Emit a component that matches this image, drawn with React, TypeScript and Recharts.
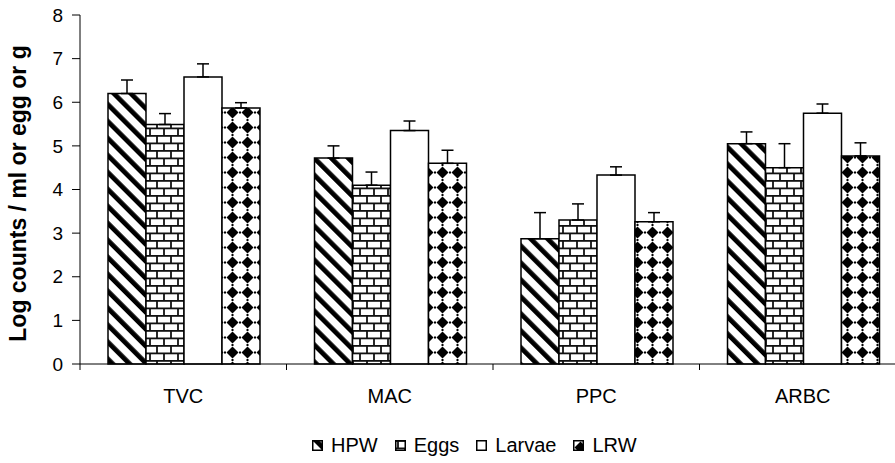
import React from 'react';
import { BarChart, Bar, XAxis, YAxis, ErrorBar, Legend, Label } from 'recharts';

const categories = ['TVC', 'MAC', 'PPC', 'ARBC'];
const seriesNames = ['HPW', 'Eggs', 'Larvae', 'LRW'];

const hpw = [6.2, 4.72, 2.87, 5.05];
const hpwErr = [0.31, 0.28, 0.6, 0.27];
const eggs = [5.49, 4.1, 3.3, 4.5];
const eggsErr = [0.25, 0.3, 0.37, 0.55];
const larvae = [6.58, 5.35, 4.33, 5.75];
const larvaeErr = [0.3, 0.22, 0.19, 0.21];
const lrw = [5.87, 4.6, 3.26, 4.77];
const lrwErr = [0.12, 0.3, 0.21, 0.3];

const yTicks = [0, 1, 2, 3, 4, 5, 6, 7, 8];

const FONT = 'Arial, "Liberation Sans", sans-serif';
const CHART_W = 906;
const CHART_H = 463;
const Y_AXIS_W = 80;

const fills: Record<string, string> = {
    HPW: 'url(#hpwFill)',
    Eggs: 'url(#eggsFill)',
    Larvae: '#ffffff',
    LRW: 'url(#lrwFill)'
};

const values: Record<string, number[]> = { HPW: hpw, Eggs: eggs, Larvae: larvae, LRW: lrw };
const errors: Record<string, number[]> = { HPW: hpwErr, Eggs: eggsErr, Larvae: larvaeErr, LRW: lrwErr };

// one row per category, errors only go upward so the low side is 0
const data = categories.map((name, i) => {
    const row: any = { name };
    seriesNames.forEach(s => {
        row[s] = values[s][i];
        row[s + '_err'] = [0, errors[s][i]];
    });
    return row;
});

const halfBand = (CHART_W - Y_AXIS_W) / categories.length / 2;

function CategoryTick(props: any) {
    const { x, y, payload, index } = props;
    return (
        <g>
            <line x1={x - halfBand} y1={y} x2={x - halfBand} y2={y + 6} stroke="#000" />
            {index === categories.length - 1 && (
                <line x1={x + halfBand} y1={y} x2={x + halfBand} y2={y + 6} stroke="#000" />
            )}
            <text x={x} y={y + 39} textAnchor="middle" fontFamily={FONT} fontSize={20} fill="#000">
                {payload.value}
            </text>
        </g>
    );
}

function YLabel(props: any) {
    const vb = props.viewBox || { x: 0, y: 15, width: 80, height: 349 };
    const cx = 26;
    const cy = vb.y + vb.height / 2 + 4;
    return (
        <text
            x={cx}
            y={cy}
            transform={`rotate(-90, ${cx}, ${cy})`}
            textAnchor="middle"
            fontFamily={FONT}
            fontWeight="bold"
            fontSize={23}
            fill="#000"
        >
            Log counts / ml or egg or g
        </text>
    );
}

function renderLegend() {
    return (
        <div style={{ display: 'flex', alignItems: 'center', fontFamily: FONT, fontSize: 20, color: '#000', whiteSpace: 'nowrap', lineHeight: '23px' }}>
            {seriesNames.map(n => (
                <span key={n} style={{ display: 'flex', alignItems: 'center', marginRight: 17 }}>
                    <svg width={11} height={11} style={{ marginRight: 8 }}>
                        <rect x={0.75} y={0.75} width={9.5} height={9.5} fill={fills[n]} stroke="#000" strokeWidth={1.5} />
                    </svg>
                    {n}
                </span>
            ))}
        </div>
    );
}

export default function App() {
    return (
        <div style={{ position: 'absolute', left: 0, top: 0, width: 895, height: 463, overflow: 'hidden', background: '#fff' }}>
            <BarChart
                width={CHART_W}
                height={CHART_H}
                data={data}
                margin={{ top: 15, right: 0, bottom: 39, left: 0 }}
                barCategoryGap={28}
                barGap={0}
            >
                <defs>
                    <pattern id="hpwFill" patternUnits="userSpaceOnUse" width="12" height="12" patternTransform="rotate(-45)">
                        <rect width="12" height="12" fill="#fff" />
                        <rect width="4.8" height="12" fill="#000" />
                    </pattern>
                    <pattern id="eggsFill" patternUnits="userSpaceOnUse" width="14" height="15">
                        <rect width="14" height="15" fill="#fff" />
                        <g stroke="#111" strokeWidth="1.8">
                            <line x1="0" y1="0.9" x2="14" y2="0.9" />
                            <line x1="0" y1="8.4" x2="14" y2="8.4" />
                            <line x1="3" y1="0" x2="3" y2="8.4" />
                            <line x1="10" y1="8.4" x2="10" y2="15" />
                        </g>
                    </pattern>
                    <pattern id="lrwFill" patternUnits="userSpaceOnUse" width="15" height="15">
                        <rect width="15" height="15" fill="#fff" />
                        <polygon points="7.5,1.5 13.5,7.5 7.5,13.5 1.5,7.5" fill="#000" />
                        <rect x="-1" y="6.5" width="2" height="2" fill="#000" />
                        <rect x="14" y="6.5" width="2" height="2" fill="#000" />
                        <rect x="6.5" y="-1" width="2" height="2" fill="#000" />
                        <rect x="6.5" y="14" width="2" height="2" fill="#000" />
                    </pattern>
                </defs>
                <XAxis
                    dataKey="name"
                    height={60}
                    interval={0}
                    tickLine={false}
                    tickSize={0}
                    tickMargin={0}
                    axisLine={{ stroke: '#000' }}
                    tick={<CategoryTick />}
                />
                <YAxis
                    width={Y_AXIS_W}
                    domain={[0, 8]}
                    ticks={yTicks}
                    interval={0}
                    tickSize={8}
                    tickMargin={9}
                    axisLine={{ stroke: '#000' }}
                    tickLine={{ stroke: '#000' }}
                    tick={{ fill: '#000', fontSize: 19, fontFamily: FONT }}
                >
                    <Label content={<YLabel />} />
                </YAxis>
                <Legend
                    layout="vertical"
                    align="center"
                    verticalAlign="middle"
                    wrapperStyle={{ top: 434, left: 312, width: 420 }}
                    content={renderLegend}
                />
                {seriesNames.map(s => (
                    <Bar key={s} dataKey={s} name={s} fill={fills[s]} stroke="#000" strokeWidth={1.5} isAnimationActive={false}>
                        <ErrorBar dataKey={s + '_err'} width={6} stroke="#000" strokeWidth={1.5} direction="y" isAnimationActive={false} />
                    </Bar>
                ))}
            </BarChart>
        </div>
    );
}
